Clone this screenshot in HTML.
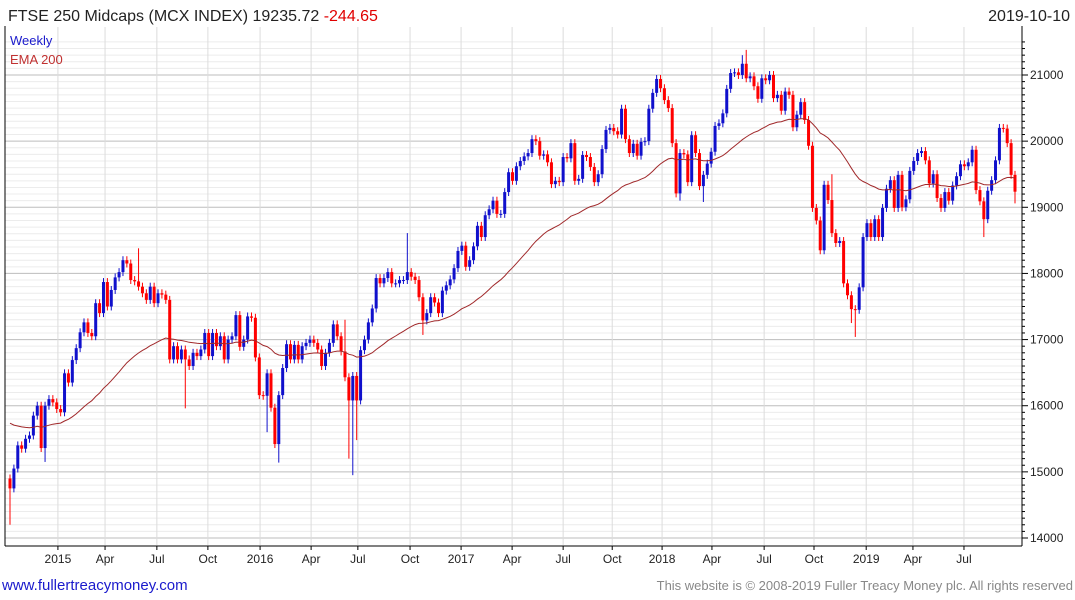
<!DOCTYPE html>
<html><head><meta charset="utf-8">
<style>
html,body{margin:0;padding:0;background:#fff;width:1075px;height:600px;overflow:hidden;font-family:"Liberation Sans",sans-serif;}
svg{display:block}
</style></head>
<body>
<svg id="chart" width="1075" height="600" viewBox="0 0 1075 600" xmlns="http://www.w3.org/2000/svg">
<g id="grid"></g>
<g id="candles"></g>
<path id="ema" fill="none" stroke="#a0282a" stroke-width="1"/>
<line x1="5" y1="26" x2="5" y2="546" stroke="#000" stroke-width="1"/>
<line x1="1022" y1="26" x2="1022" y2="546" stroke="#000" stroke-width="1"/>
<line x1="5" y1="546" x2="1022" y2="546" stroke="#000" stroke-width="1"/>
<g id="yaxis"></g>
<g id="xaxis"></g>
<text x="8" y="21" font-size="16" fill="#222">FTSE 250 Midcaps (MCX INDEX) 19235.72 <tspan fill="#e00000">-244.65</tspan></text>
<text x="1070" y="21" font-size="16" fill="#222" text-anchor="end">2019-10-10</text>
<text x="10" y="45" font-size="13" fill="#1a1acc">Weekly</text>
<text x="10" y="64" font-size="13" fill="#c03030">EMA 200</text>
<text x="2" y="590" font-size="15" fill="#1a1acc">www.fullertreacymoney.com</text>
<text x="1073" y="590" font-size="13" fill="#888" text-anchor="end">This website is © 2008-2019 Fuller Treacy Money plc. All rights reserved</text>
</svg>
<script>
const closes = [
14750,15050,15400,15350,15500,15550,15850,16000,15360,16000,
16100,16050,15950,15900,16490,16350,16690,16870,17110,17260,
17100,17050,17550,17400,17870,17500,17750,17940,18020,18200,
18150,17900,17880,17800,17700,17600,17800,17550,17700,17680,
17600,16700,16900,16700,16850,16700,16600,16800,16750,
16850,17100,16750,17100,16900,17050,16700,17000,17050,17370,16890,17000,17350,17330,
16730,16160,16150,16490,15970,15420,16160,16570,16930,16700,
16920,16700,16900,16950,17000,16950,16850,16600,16800,16950,
17230,17050,16820,16430,16080,16450,16080,16840,17000,17260,
17470,17930,17850,17930,18020,17850,17850,17900,17900,18020,
17950,17900,17640,17290,17400,17640,17560,17400,17740,17820,
17910,18080,18340,18420,18100,18200,18410,18720,18550,18880,
18970,19100,18900,18900,19230,19530,19400,
19620,19700,19770,19820,20030,20000,19780,19800,19680,19350,
19400,19380,19760,19740,19970,19400,19430,19790,19760,19610,
19380,19500,19880,20170,20200,20150,20100,20490,20030,19820,
19960,19780,19990,20000,20490,20730,20940,20800,20620,20500,
19970,19210,19820,19800,19380,20090,19820,19320,19490,19660,
19840,20230,20270,20420,20790,21030,21040,21000,21170,20950,
20980,20830,20640,
20950,20920,21000,20650,20700,20460,20750,20700,20210,20400,
20590,20320,19930,18990,18800,18350,19340,19110,18610,18460,
18490,17850,17670,17460,17450,17790,18550,18760,18550,18820,
18550,18990,19280,19410,18990,19490,19000,19120,19550,19700,
19820,19850,19710,19360,19500,19140,18990,19230,19100,19330,
19470,19650,19620,19680,19870,19260,19090,18820,19250,19410,
19710,20200,20190,19970,19490,19236
];
const firstOpen = 14900;
const extremeIdx  = [0,9,33,45,66,69,86,87,88,89,102,106,172,178,188,189,211,216,217,250,258];
const extremeVal  = [14200,15150,18380,15960,15600,15140,17300,15200,14950,15480,18610,17070,19100,19080,21300,21380,19500,17250,17040,18550,19060];
const extremeSide = ["L","L","H","L","L","L","H","L","L","L","H","L","L","L","H","H","H","L","L","L","L"];
const yTicks = [14000,15000,16000,17000,18000,19000,20000,21000];
const xTickLabels = ["2015","Apr","Jul","Oct","2016","Apr","Jul","Oct","2017","Apr","Jul","Oct","2018","Apr","Jul","Oct","2019","Apr","Jul"];
const xTickIdx = [12.3,24.4,37.7,50.8,64.2,77.3,89.3,102.7,115.8,128.9,142,154.6,167.4,180.2,193.6,206.4,219.8,231.8,244.9];
const emaStart = 15780;
const emaPeriod = 46;

const NS="http://www.w3.org/2000/svg";
const X0=10, X1=1015, N=closes.length;
function xs(i){return X0+i*(X1-X0)/(N-1);}
function ys(v){return 75+(21000-v)*(463/7000);}
function mk(tag,attrs,parent){const e=document.createElementNS(NS,tag);for(const k in attrs)e.setAttribute(k,attrs[k]);parent.appendChild(e);return e;}

const grid=document.getElementById('grid');
for(let v=14000;v<=21500;v+=100){
  const y=ys(v); if(y<27||y>545)continue;
  const major=v%1000===0;
  const l=mk('line',{x1:5,x2:1022,y1:y,y2:y,stroke:major?'#bdbdbd':'#ececec','stroke-width':1},grid);
  
  
}
xTickIdx.forEach((t,k)=>{
  const x=xs(t);
  const l=mk('line',{x1:x,x2:x,y1:27,y2:545,stroke:'#dcdcdc','stroke-width':1},grid);
  
  
});

const cg=document.getElementById('candles');
const hi={},lo={};
extremeIdx.forEach((i,k)=>{if(extremeSide[k]==="H")hi[i]=extremeVal[k];else lo[i]=extremeVal[k];});
for(let i=0;i<N;i++){
  const o=i===0?firstOpen:closes[i-1], c=closes[i];
  const h=hi[i]!==undefined?hi[i]:Math.max(o,c)+60;
  const l=lo[i]!==undefined?lo[i]:Math.min(o,c)-60;
  const col=c>=o?'#1010cc':'#ff0000';
  const x=xs(i);
  const g=mk('g',{},cg);
  
  
  mk('line',{x1:x,x2:x,y1:ys(h),y2:ys(l),stroke:col,'stroke-width':1},g);
  const top=ys(Math.max(o,c)), bot=ys(Math.min(o,c));
  mk('rect',{x:x-1.5,y:top,width:3,height:Math.max(1,bot-top),fill:col},g);
}

let e=emaStart,d='';const a=2/(emaPeriod+1);
for(let i=0;i<N;i++){e=e+a*(closes[i]-e);d+=(i?'L':'M')+xs(i).toFixed(1)+' '+ys(e).toFixed(1);}
document.getElementById('ema').setAttribute('d',d);

const ya=document.getElementById('yaxis');
yTicks.forEach(v=>{
  const y=ys(v);
  const t=mk('text',{x:1030,y:y+4,'font-size':12,fill:'#222'},ya);
  t.textContent=v;
  
  
});
for(let v=14000;v<=21500;v+=100){const y=ys(v);if(y<27||y>545)continue;
  const tk=mk('line',{x1:1022,x2:v%1000===0?1028:1025,y1:y,y2:y,stroke:'#000','stroke-width':1},ya);
  
  
}
const xa=document.getElementById('xaxis');
xTickLabels.forEach((s,k)=>{
  const x=xs(xTickIdx[k]);
  const tk=mk('line',{x1:x,x2:x,y1:546,y2:550,stroke:'#000','stroke-width':1},xa);
  
  
  const t=mk('text',{x:x,y:563,'font-size':12,fill:'#222','text-anchor':'middle'},xa);
  t.textContent=s;
  
  
});
</script>
</body></html>
